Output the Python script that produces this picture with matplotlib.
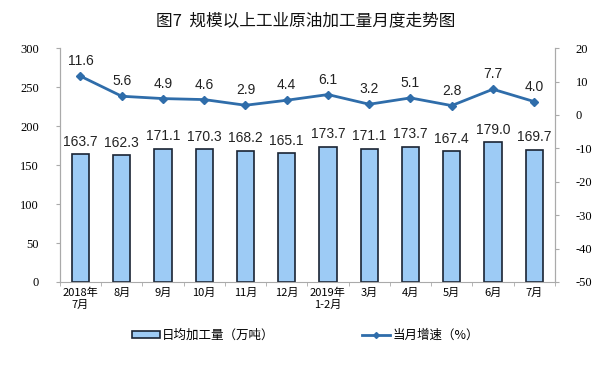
import matplotlib
matplotlib.use("Agg")
import matplotlib.pyplot as plt
import numpy as np
from matplotlib.lines import Line2D
from matplotlib.patches import Patch

plt.rcParams['font.family'] = ['Noto Sans CJK SC', 'DejaVu Sans']
plt.rcParams['axes.unicode_minus'] = False

categories = ["2018年\n7月", "8月", "9月", "10月", "11月", "12月", "2019年\n1-2月", "3月", "4月", "5月", "6月", "7月"]
daily_output = [163.7, 162.3, 171.1, 170.3, 168.2, 165.1, 173.7, 171.1, 173.7, 167.4, 179.0, 169.7]
growth = [11.6, 5.6, 4.9, 4.6, 2.9, 4.4, 6.1, 3.2, 5.1, 2.8, 7.7, 4.0]
left_ticks = [0, 50, 100, 150, 200, 250, 300]
right_ticks = [-50, -40, -30, -20, -10, 0, 10, 20]

fig = plt.figure(figsize=(6.11, 3.76), dpi=100)
ax = fig.add_axes([0.098, 0.25, 0.81, 0.622])
ax2 = ax.twinx()

x = np.arange(len(categories))
bar_color = '#9DCBF5'
line_color = '#2F6DAA'
ax.bar(x, daily_output, width=0.42, color=bar_color, edgecolor='#1A2433', linewidth=1.2, zorder=2)
for xi, v in zip(x, daily_output):
    ax.text(xi, v + 7, f"{v:.1f}", ha='center', va='bottom', fontsize=10,
            family=['Liberation Sans'], color='#222222')

ax2.plot(x, growth, color=line_color, linewidth=2, marker='D', markersize=4, zorder=3)
for xi, v in zip(x, growth):
    ax2.text(xi, v + 2.4, f"{v:.1f}", ha='center', va='bottom', fontsize=10,
             family=['Liberation Sans'], color='#222222')

ax.set_xlim(-0.5, len(categories) - 0.5)
ax.set_ylim(0, 300)
ax2.set_ylim(-50, 20)
ax.set_yticks(left_ticks)
ax.set_yticklabels([str(t) for t in left_ticks], family=['Liberation Serif'], fontsize=9)
ax2.set_yticks(right_ticks)
ax2.set_yticklabels([str(t) for t in right_ticks], family=['Liberation Serif'], fontsize=9)
ax.set_xticks(x)
ax.set_xticklabels(categories, fontsize=8, family=['Noto Sans CJK SC'], linespacing=1.3)
ax.set_xticks(np.arange(-0.5, len(categories)), minor=True)
ax.tick_params(axis='x', which='major', length=0, pad=4)
ax.tick_params(axis='x', which='minor', length=3, color='#AAAAAA')
ax.tick_params(axis='y', length=3, color='#AAAAAA', direction='out', pad=12)
ax2.tick_params(axis='y', length=3, color='#AAAAAA', direction='out', pad=12)

for a in (ax, ax2):
    a.spines['top'].set_visible(False)
    for s in ('left', 'right', 'bottom'):
        a.spines[s].set_color('#AAAAAA')
        a.spines[s].set_linewidth(0.8)
ax2.spines['bottom'].set_visible(False)

fig.text(0.5, 0.945, "图7  规模以上工业原油加工量月度走势图", ha='center', va='center', fontsize=12,
         color='#111111')

handles = [Patch(facecolor=bar_color, edgecolor='#1A2433', linewidth=1.2),
           Line2D([0], [0], color=line_color, linewidth=2, marker='D', markersize=3)]
fig.legend(handles, ["日均加工量（万吨）", "当月增速（%）"], loc='center', bbox_to_anchor=(0.5, 0.108),
           ncol=2, frameon=False, fontsize=9, handlelength=2.2, handleheight=0.6, columnspacing=7,
           handletextpad=0.2)

fig.savefig("out.png", dpi=100)
